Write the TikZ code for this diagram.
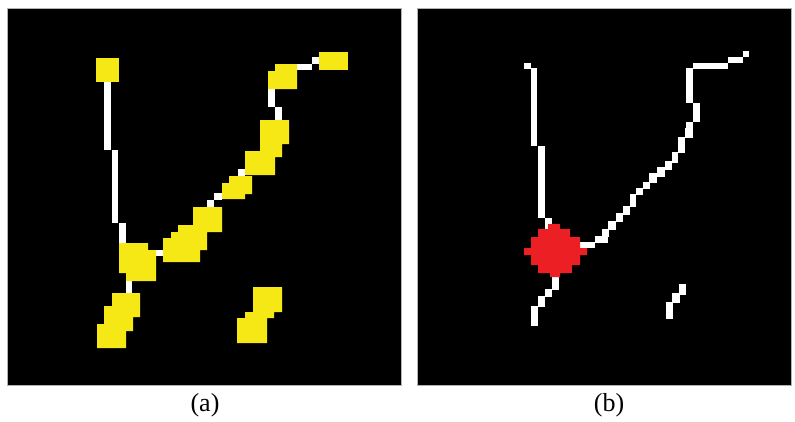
\documentclass[tikz,border=0pt]{standalone}
\usepackage{fontspec}
\setmainfont{Liberation Serif}
\definecolor{giallo}{RGB}{245,232,20}
\definecolor{rosso}{RGB}{236,32,36}
\tikzset{
  pannello/.style={fill=black, draw=gray!60, line width=0.8pt},
  pixel/.style={fill=white},
  blocco/.style={fill=giallo},
  nodo/.style={fill=rosso},
  didascalia/.style={font=\fontsize{26}{30}\selectfont, inner sep=0pt}
}
\begin{document}
\begin{tikzpicture}[x=1pt, y=-1pt]
    \useasboundingbox (0,0) rectangle (795,421);

    % Pannello (a)
    \draw[pannello] (7,8) rectangle (401,385);

    % scheletro bianco
    \foreach \xa/\ya/\xb/\yb in {104/82/111/150, 112/150/118/223, 119/223/126/243,
        156/250/163/256, 126/281/132/293, 207/200/214/207, 214/193/222/200,
        238/169/245/176, 268/89/275/107, 275/107/282/120, 297/64/312/70, 312/57/319/64}
        \fill[pixel] (\xa,\ya) rectangle (\xb,\yb);

    % blocchi gialli
    \fill[blocco] (96,58) rectangle (119,82);
    \fill[blocco] (319,52) rectangle (348,70);
    \fill[blocco] (119,243) -- (148,243) -- (148,250) -- (156,250) -- (156,281)
        -- (126,281) -- (126,273) -- (119,273) -- cycle;
    \fill[blocco] (112,293) -- (140,293) -- (140,317) -- (133,317) -- (133,331)
        -- (126,331) -- (126,348) -- (97,348) -- (97,324) -- (104,324)
        -- (104,306) -- (112,306) -- cycle;
    \fill[blocco] (193,207) -- (222,207) -- (222,232) -- (207,232) -- (207,250)
        -- (200,250) -- (200,262) -- (163,262) -- (163,238) -- (171,238)
        -- (171,232) -- (178,232) -- (178,225) -- (193,225) -- cycle;
    \fill[blocco] (229,176) -- (252,176) -- (252,194) -- (245,194) -- (245,199)
        -- (222,199) -- (222,183) -- (229,183) -- cycle;
    \fill[blocco] (260,120) -- (289,120) -- (289,144) -- (282,144) -- (282,157)
        -- (275,157) -- (275,175) -- (245,175) -- (245,151) -- (260,151) -- cycle;
    \fill[blocco] (275,64) -- (297,64) -- (297,89) -- (268,89) -- (268,71)
        -- (275,71) -- cycle;
    \fill[blocco] (253,287) -- (282,287) -- (282,312) -- (274,312) -- (274,318)
        -- (267,318) -- (267,343) -- (237,343) -- (237,318) -- (245,318)
        -- (245,312) -- (253,312) -- cycle;

    % Pannello (b)
    \draw[pannello] (417,8) rectangle (791,385);

    \foreach \xa/\ya/\xb/\yb in {524/63/531/69, 531/68/537/146, 538/146/545/218, 545/218/552/229,
        552/276/559/290, 545/289/552/297, 538/296/545/307, 531/306/538/326,
        580/242/595/248, 595/236/608/243, 602/229/609/237, 608/221/616/230,
        616/213/623/222, 623/206/630/215, 630/194/636/207, 636/188/643/195,
        643/182/650/189, 649/173/657/183, 657/167/665/177, 665/161/672/170,
        672/152/678/163, 678/137/685/153, 685/128/693/138, 686/122/693/130,
        693/103/700/122, 686/68/693/103, 693/63/728/69, 728/57/743/63, 743/51/749/57,
        679/284/686/295, 672/293/680/303, 666/302/673/319}
        \fill[pixel] (\xa,\ya) rectangle (\xb,\yb);

    % punto di diramazione
    \fill[nodo] (548,224) -- (560,224) -- (560,229) -- (570,229) -- (570,237)
        -- (580,237) -- (580,248) -- (587,248) -- (587,255) -- (580,255)
        -- (580,265) -- (572,265) -- (572,273) -- (560,273) -- (560,277)
        -- (550,277) -- (550,273) -- (538,273) -- (538,265) -- (531,265)
        -- (531,255) -- (524,255) -- (524,248) -- (531,248) -- (531,237)
        -- (538,237) -- (538,229) -- (548,229) -- cycle;

    % Didascalie
    \node[didascalia] (lab-a) at (205,405) {(a)};
    \node[didascalia] (lab-b) at (609,405) {(b)};
\end{tikzpicture}
\end{document}
